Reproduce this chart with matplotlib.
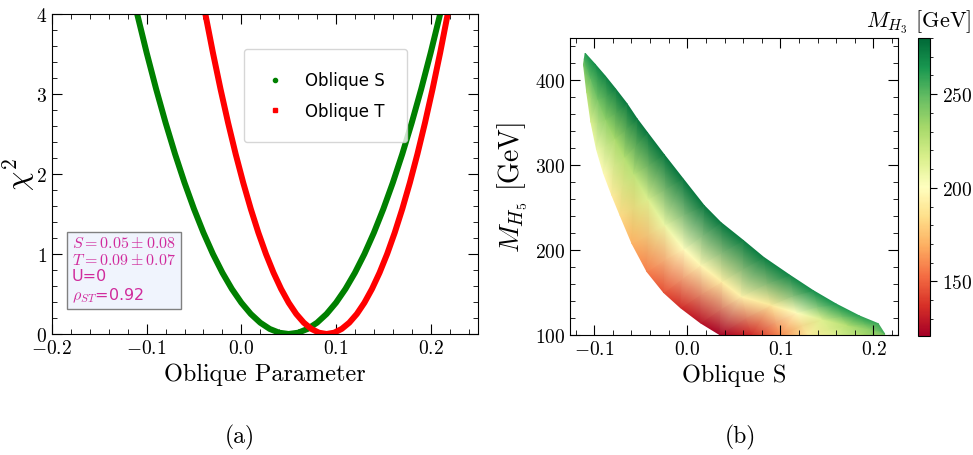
import matplotlib
matplotlib.use('Agg')
import matplotlib.pyplot as plt
import numpy as np
from matplotlib.lines import Line2D
from matplotlib.ticker import MultipleLocator

plt.rcParams.update({
    'font.family': 'serif',
    'font.serif': ['cmr10'],
    'mathtext.fontset': 'cm',
    'axes.formatter.use_mathtext': True,
    'axes.unicode_minus': True,
    'xtick.direction': 'in',
    'ytick.direction': 'in',
    'xtick.top': True,
    'ytick.right': True,
    'xtick.minor.visible': True,
    'ytick.minor.visible': True,
    'xtick.major.size': 7,
    'ytick.major.size': 7,
    'xtick.minor.size': 3.5,
    'ytick.minor.size': 3.5,
    'xtick.labelsize': 14,
    'ytick.labelsize': 14,
})

# ---- panel (a): chi^2 profiles ----
s_param = [-0.11, -0.10, -0.09, -0.08, -0.07, -0.06, -0.05, -0.04, -0.03, -0.02, -0.01,
           0.00, 0.01, 0.02, 0.03, 0.04, 0.05, 0.06, 0.07, 0.08, 0.09, 0.10, 0.11,
           0.12, 0.13, 0.14, 0.15, 0.16, 0.17, 0.18, 0.19, 0.20, 0.21]
s_chi2 = [4.0, 3.516, 3.063, 2.641, 2.25, 1.891, 1.563, 1.266, 1.0, 0.766, 0.563,
          0.391, 0.25, 0.141, 0.063, 0.016, 0.0, 0.016, 0.063, 0.141, 0.25, 0.391, 0.563,
          0.766, 1.0, 1.266, 1.563, 1.891, 2.25, 2.641, 3.063, 3.516, 4.0]
t_param = [-0.038, -0.030, -0.022, -0.014, -0.006, 0.002, 0.010, 0.018, 0.026, 0.034, 0.042,
           0.050, 0.058, 0.066, 0.074, 0.082, 0.090, 0.098, 0.106, 0.114, 0.122, 0.130, 0.138,
           0.146, 0.154, 0.162, 0.170, 0.178, 0.186, 0.194, 0.202, 0.210, 0.218]
t_chi2 = [4.0, 3.516, 3.063, 2.641, 2.25, 1.891, 1.563, 1.266, 1.0, 0.766, 0.563,
          0.391, 0.25, 0.141, 0.063, 0.016, 0.0, 0.016, 0.063, 0.141, 0.25, 0.391, 0.563,
          0.766, 1.0, 1.266, 1.563, 1.891, 2.25, 2.641, 3.063, 3.516, 4.0]

# ---- panel (b): scan band, three rows (lower edge, middle, upper edge) ----
low_S = [-0.1115, -0.108, -0.1035, -0.0975, -0.090, -0.081, -0.072, -0.0593, -0.0432, -0.0252,
         -0.0072, 0.0143, 0.035, 0.070, 0.100, 0.130, 0.160, 0.190, 0.212]
low_MH5 = [418, 385, 350, 318, 290, 264, 240, 207, 174, 149.5,
           131.7, 113.9, 100, 100, 100, 100, 100, 100, 100]
low_MH3 = [245, 228, 215, 207, 198, 190, 183, 170, 157, 145,
           135, 127, 122, 135, 160, 190, 215, 232, 240]

mid_S = [-0.1106, -0.1035, -0.0958, -0.0873, -0.0775, -0.0675, -0.0575, -0.0422, -0.0241, -0.0036,
         0.0144, 0.0372, 0.058, 0.090, 0.1175, 0.145, 0.1725, 0.1975, 0.212]
mid_MH5 = [424.5, 401.5, 377, 353.5, 331, 309, 289, 259.5, 229, 200.8,
           181.9, 162.5, 145, 135, 126, 118, 111, 106.5, 100.5]
mid_MH3 = [255, 250, 245, 238, 232, 228, 225, 215, 208, 200,
           197, 193, 194, 190, 200, 215, 228, 240, 245]

up_S = [-0.1097, -0.099, -0.088, -0.077, -0.065, -0.054, -0.043, -0.025, -0.005, 0.018,
        0.036, 0.060, 0.082, 0.110, 0.135, 0.160, 0.185, 0.205, 0.212]
up_MH5 = [431, 418, 404, 389, 372, 354, 338, 312, 284, 252,
          232, 211, 191, 170, 152, 136, 122, 113, 101]
up_MH3 = [262, 268, 271, 273, 274, 275, 275, 275, 275, 275,
          274, 273, 272, 270, 267, 264, 261, 258, 255]

fig = plt.figure(figsize=(9.73, 4.56), dpi=100)

# ----- left panel -----
ax1 = fig.add_axes([0.0534, 0.2654, 0.4379, 0.7017])
ax1.plot(s_param, s_chi2, color='green', lw=4.3, solid_capstyle='butt')
ax1.plot(t_param, t_chi2, color='red', lw=4.3, solid_capstyle='butt')
ax1.set_xlim(-0.2, 0.25)
ax1.set_ylim(0, 4)
ax1.xaxis.set_major_locator(MultipleLocator(0.1))
ax1.xaxis.set_minor_locator(MultipleLocator(0.02))
ax1.yaxis.set_major_locator(MultipleLocator(1))
ax1.yaxis.set_minor_locator(MultipleLocator(0.2))
ax1.set_xlabel('Oblique Parameter', fontsize=17.5)
ax1.set_ylabel(r'$\chi^2$', fontsize=22)
ax1.yaxis.set_label_coords(-0.035, 0.5)

handles = [Line2D([], [], color='green', marker='o', ls='', markersize=3),
           Line2D([], [], color='red', marker='s', ls='', markersize=3)]
ax1.legend(handles, ['Oblique S', 'Oblique T'], loc='upper left',
           bbox_to_anchor=(0.451, 0.891), borderaxespad=0,
           prop={'family': 'DejaVu Sans', 'size': 12},
           borderpad=1.35, labelspacing=0.75, handlelength=1.0, handletextpad=1.3,
           frameon=True, edgecolor='#cccccc', fancybox=True)

ax1.text(0.047, 0.094,
         '$S = 0.05 \\pm 0.08$\n$T = 0.09 \\pm 0.07$\nU=0\n$\\rho_{ST}$=0.92',
         transform=ax1.transAxes, ha='left', va='bottom', color='#d02b9c',
         fontsize=11.5, family='DejaVu Sans', linespacing=1.15,
         bbox=dict(boxstyle='square,pad=0.3', facecolor='#f0f4fd', edgecolor='gray'))

# ----- right panel -----
ax2 = fig.add_axes([0.5858, 0.2638, 0.3368, 0.6507])
X = np.array([low_S, mid_S, up_S])
Y = np.array([low_MH5, mid_MH5, up_MH5])
C = np.array([low_MH3, mid_MH3, up_MH3])
mesh = ax2.pcolormesh(X, Y, C, shading='gouraud', cmap='RdYlGn', vmin=121, vmax=280)
ax2.set_xlim(-0.126, 0.226)
ax2.set_ylim(100, 449)
ax2.xaxis.set_major_locator(MultipleLocator(0.1))
ax2.xaxis.set_minor_locator(MultipleLocator(0.02))
ax2.yaxis.set_major_locator(MultipleLocator(100))
ax2.yaxis.set_minor_locator(MultipleLocator(20))
ax2.set_xlabel('Oblique S', fontsize=17.5)
ax2.set_ylabel('$M_{H_5}$ [GeV]', fontsize=20)

cax = fig.add_axes([0.9432, 0.2616, 0.0126, 0.6529])
cbar = fig.colorbar(mesh, cax=cax)
cbar.set_ticks([150, 200, 250])
cbar.ax.yaxis.set_minor_locator(MultipleLocator(10))
cbar.ax.tick_params(which='both', direction='out', right=True, left=False)
cbar.ax.tick_params(which='major', length=5)
cbar.ax.tick_params(which='minor', length=2.5)
fig.text(0.998, 1 - 22 / 456, '$M_{H_3}$ [GeV]', ha='right', va='center', fontsize=16)

fig.text(240 / 973, 1 - 437 / 456, '(a)', ha='center', va='center', fontsize=17)
fig.text(740 / 973, 1 - 437 / 456, '(b)', ha='center', va='center', fontsize=17)

fig.savefig('out.png', dpi=100)
